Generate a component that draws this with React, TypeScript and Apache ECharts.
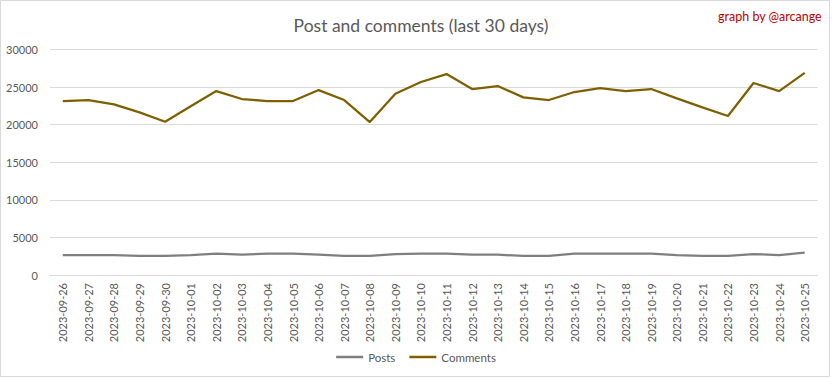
import React, { useEffect, useRef } from "react";
import * as echarts from "echarts";

const dates = [
  "2023-09-26", "2023-09-27", "2023-09-28", "2023-09-29", "2023-09-30",
  "2023-10-01", "2023-10-02", "2023-10-03", "2023-10-04", "2023-10-05",
  "2023-10-06", "2023-10-07", "2023-10-08", "2023-10-09", "2023-10-10",
  "2023-10-11", "2023-10-12", "2023-10-13", "2023-10-14", "2023-10-15",
  "2023-10-16", "2023-10-17", "2023-10-18", "2023-10-19", "2023-10-20",
  "2023-10-21", "2023-10-22", "2023-10-23", "2023-10-24", "2023-10-25",
];

const posts = [
  2660, 2660, 2660, 2530, 2530, 2660, 2840, 2700, 2840, 2840,
  2700, 2530, 2530, 2790, 2840, 2840, 2700, 2700, 2530, 2530,
  2840, 2840, 2840, 2840, 2660, 2530, 2530, 2790, 2660, 2970,
];

const comments = [
  23140, 23275, 22700, 21630, 20390, 22450, 24470, 23410, 23140, 23140,
  24600, 23275, 20350, 24120, 25670, 26730, 24740, 25140, 23630, 23275,
  24340, 24870, 24470, 24740, 23500, 22300, 21150, 25540, 24470, 26900,
];

const FONT = "Lato, 'Liberation Sans', sans-serif";
const TXT = "#595959";

export default function App() {
  const ref = useRef<HTMLDivElement>(null);
  useEffect(() => {
    document.body.style.margin = "0";
    const chart = echarts.init(ref.current!, null, { renderer: "svg" });
    chart.setOption({
      animation: false,
      backgroundColor: "#ffffff",
      textStyle: { fontFamily: FONT },
      title: {
        text: "Post and comments (last 30 days)",
        left: 416,
        textAlign: "center",
        top: 11,
        textStyle: { color: TXT, fontSize: 17.5, fontWeight: "normal", fontFamily: FONT },
      },
      graphic: [
        {
          type: "rect",
          shape: { x: 0.5, y: 0.5, width: 829, height: 376 },
          style: { fill: "none", stroke: "#d9d9d9", lineWidth: 1 },
          silent: true,
        },
        {
          type: "text",
          right: 10,
          top: 10,
          style: { text: "graph by @arcange", fill: "#c00000", fontSize: 12.5, fontFamily: FONT },
        },
      ],
      grid: { left: 50, right: 14.5, top: 49.5, bottom: 103 },
      legend: {
        bottom: 10,
        left: "center",
        icon: "rect",
        itemWidth: 27,
        itemHeight: 2.5,
        itemGap: 14,
        textStyle: { color: TXT, fontSize: 11.5, fontFamily: FONT },
        data: ["Posts", "Comments"],
      },
      xAxis: {
        type: "category",
        data: dates,
        boundaryGap: true,
        axisLine: { lineStyle: { color: "#d9d9d9", width: 1 } },
        axisTick: { show: false },
        axisLabel: { rotate: 90, color: TXT, fontSize: 11, margin: 8, interval: 0, fontFamily: FONT },
      },
      yAxis: {
        type: "value",
        min: 0,
        max: 30000,
        interval: 5000,
        axisLine: { show: false },
        axisTick: { show: false },
        splitLine: { lineStyle: { color: "#d9d9d9", width: 1 } },
        axisLabel: { color: TXT, fontSize: 11, margin: 12, fontFamily: FONT, formatter: (v: number) => String(v) },
      },
      series: [
        {
          name: "Posts",
          type: "line",
          data: posts,
          showSymbol: false,
          symbol: "none",
          lineStyle: { color: "#7f7f7f", width: 2.25 },
          itemStyle: { color: "#7f7f7f" },
        },
        {
          name: "Comments",
          type: "line",
          data: comments,
          showSymbol: false,
          symbol: "none",
          lineStyle: { color: "#7f6000", width: 2.25 },
          itemStyle: { color: "#7f6000" },
        },
      ],
    });
    return () => chart.dispose();
  }, []);
  return <div ref={ref} style={{ width: 832, height: 378 }} />;
}
